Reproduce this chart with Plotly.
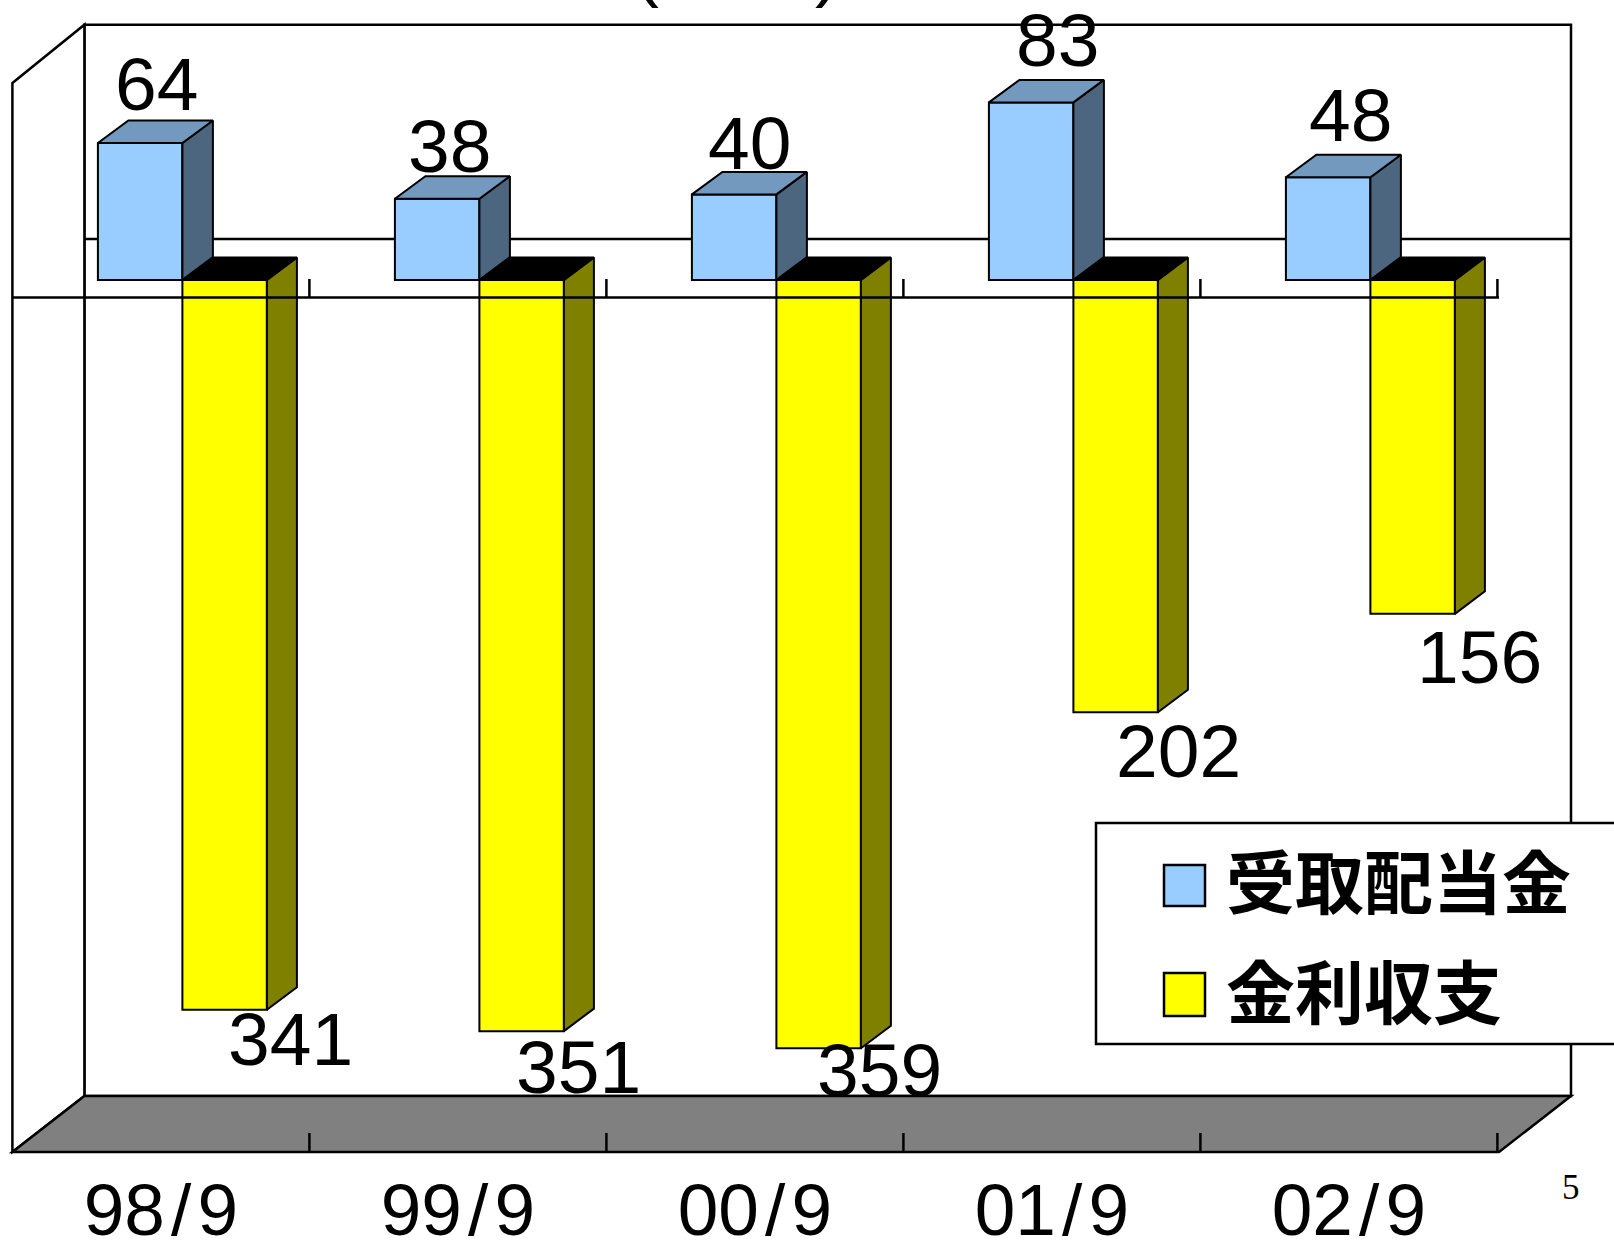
import plotly.graph_objects as go

categories = ["98/9", "99/9", "00/9", "01/9", "02/9"]
dividends = [64, 38, 40, 83, 48]
interest = [341, 351, 359, 202, 156]
series_names = ["受取配当金", "金利収支"]

W, H = 1614, 1241
X0, CW = 12.4, 297.0      # left front edge px, category width px
Y0, PU = 280.0, 2.14      # zero px, px per unit


def px(x):
    return -0.5 + (x - X0) / CW


def py(y):
    return (Y0 - y) / PU


BW = 84.5 / CW
OFF_A, OFF_B = -63 / CW, 21.5 / CW
DX_A, DY_A = 30.5 / CW, 22.5 / PU
DX_B, DY_B = 30 / CW, 22.5 / PU

BLUE, BLUE_SIDE, BLUE_TOP = "#99ccff", "#4d6680", "#7399bf"
YEL, YEL_SIDE, YEL_TOP = "#ffff00", "#808000", "#000000"
LINE = dict(color="black", width=2.5)


def poly(xs, ys, color):
    return go.Scatter(x=xs, y=ys, mode="lines", fill="toself", fillcolor=color,
                      line=dict(color="black", width=2), showlegend=False, hoverinfo="skip")


fig = go.Figure()

fig.add_bar(x=list(range(5)), y=dividends, width=BW, offset=OFF_A, name=series_names[0],
            marker=dict(color=BLUE, line=dict(color="black", width=2)), showlegend=False)
fig.add_bar(x=list(range(5)), y=[-v for v in interest], width=BW, offset=OFF_B, name=series_names[1],
            marker=dict(color=YEL, line=dict(color="black", width=2)), showlegend=False)

for i, v in enumerate(dividends):
    l, r = i + OFF_A, i + OFF_A + BW
    fig.add_trace(poly([r, r + DX_A, r + DX_A, r, r], [0, DY_A, v + DY_A, v, 0], BLUE_SIDE))
    fig.add_trace(poly([l, l + DX_A, r + DX_A, r, l], [v, v + DY_A, v + DY_A, v, v], BLUE_TOP))
for i, v in enumerate(interest):
    l, r = i + OFF_B, i + OFF_B + BW
    fig.add_trace(poly([r, r + DX_B, r + DX_B, r, r], [0, DY_B, -v + DY_B, -v, 0], YEL_SIDE))
    fig.add_trace(poly([l, l + DX_B, r + DX_B, r, l], [0, DY_B, DY_B, 0, 0], YEL_TOP))

shapes = []


def path(points, fill=None, layer="below", line=LINE):
    d = "M " + " L ".join(f"{px(a):.5f},{py(b):.3f}" for a, b in points)
    if fill:
        d += " Z"
    shapes.append(dict(type="path", path=d, xref="x", yref="y", layer=layer,
                       fillcolor=fill if fill else "rgba(0,0,0,0)", line=line))


# walls and floor
path([(84.4, 24.7), (1571, 24.7), (1571, 1096), (84.4, 1096)], fill="white")
path([(12.4, 83), (84.4, 24.7), (84.4, 1096), (12.4, 1152)], fill="white")
path([(84.4, 239), (1571, 239)])
path([(12.4, 1152), (84.4, 1096), (1571, 1096), (1499, 1152)], fill="#808080")
path([(12.4, 297.5), (1499, 297.5)], layer="above")
for k in range(1, 6):
    x = X0 + CW * k
    path([(x, 279), (x, 297.5)])
    path([(x, 1133), (x, 1152)])

# legend panel
path([(1096, 823), (1640, 823), (1640, 1044), (1096, 1044)], fill="white", layer="above")
path([(1164, 865), (1205, 865), (1205, 906), (1164, 906)], fill=BLUE, layer="above")
path([(1164, 973), (1205, 973), (1205, 1016), (1164, 1016)], fill=YEL, layer="above")

annotations = []
NUM = dict(family="Liberation Sans", size=75, color="black")
label_dx_a = [-4.5, -8, -5.6, 6, 2]
label_dy_a = [59, 53, 51, 62, 62]
label_dx_b = [130, 121, 125, 126.6, 131]
label_dy_b = [-29, -36, -22, -39, -43]
for i in range(5):
    annotations.append(dict(x=i, y=dividends[i], text=str(dividends[i]), showarrow=False, font=NUM,
                            xanchor="center", yanchor="middle", xshift=label_dx_a[i], yshift=label_dy_a[i]))
    annotations.append(dict(x=i, y=-interest[i], text=str(interest[i]), showarrow=False, font=NUM,
                            xanchor="center", yanchor="middle", xshift=label_dx_b[i], yshift=label_dy_b[i]))

CJK = dict(family="Noto Sans CJK JP", size=69, color="black", weight=700)
annotations.append(dict(x=px(1224), y=py(879), text="<b>%s</b>" % series_names[0], showarrow=False, font=CJK,
                        xanchor="left", yanchor="middle"))
annotations.append(dict(x=px(1224), y=py(989), text="<b>%s</b>" % series_names[1], showarrow=False, font=CJK,
                        xanchor="left", yanchor="middle"))
annotations.append(dict(x=px(1571), y=py(1187), text="5", showarrow=False,
                        font=dict(family="Liberation Serif", size=35, color="black"),
                        xanchor="center", yanchor="middle"))
for t, xp in (("(", 646), (")", 827)):
    annotations.append(dict(x=px(xp), y=py(11), text=t, showarrow=False, font=NUM,
                            xanchor="center", yanchor="bottom"))

fig.update_layout(
    width=W, height=H, margin=dict(l=0, r=0, t=0, b=0, autoexpand=False), autosize=False,
    paper_bgcolor="white", plot_bgcolor="white", showlegend=False, barmode="overlay",
    shapes=shapes, annotations=annotations,
    xaxis=dict(range=[px(0), px(W)], tickmode="array", tickvals=list(range(5)),
               ticktext=[c.replace("/", "\u200a/\u200a") for c in categories],
               ticklabelposition="inside", ticklabelstandoff=-12, automargin=False,
               showgrid=False, zeroline=False, showline=False, ticks="",
               tickfont=dict(family="Liberation Sans", size=73, color="black"), fixedrange=True),
    yaxis=dict(range=[py(H), py(0)], visible=False, fixedrange=True),
)

fig.write_html("out.html", config=dict(displayModeBar=False),
               post_script="document.body.style.margin='0';document.body.style.overflow='hidden';")
